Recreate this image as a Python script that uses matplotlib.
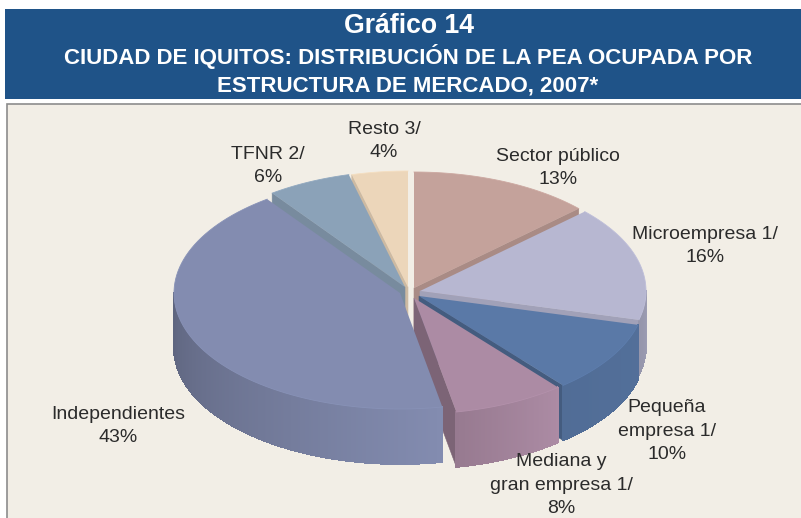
#!/usr/bin/env python3
# -*- coding: utf-8 -*-
import numpy as np
import matplotlib
matplotlib.use("Agg")
import matplotlib.pyplot as plt
from matplotlib.collections import PolyCollection
from matplotlib.colors import to_rgb
from matplotlib.patches import Rectangle

plt.rcParams['font.family'] = ['Liberation Sans', 'DejaVu Sans']

# data, clockwise from 12 o'clock
labels = ["Sector público\n13%", "Microempresa 1/\n16%", "Pequeña\nempresa 1/\n10%",
          "Mediana y\ngran empresa 1/\n8%", "Independientes\n43%", "TFNR 2/\n6%", "Resto 3/\n4%"]
shares = [13, 16, 10, 8, 43, 6, 4]

title = "Gráfico 14"
subtitle = "CIUDAD DE IQUITOS: DISTRIBUCIÓN DE LA PEA OCUPADA POR\nESTRUCTURA DE MERCADO, 2007*"

# styles
colors = ['#C4A29B', '#B7B7D1', '#5A79A7', '#AC8BA4', '#838CB0', '#8BA2B8', '#ECD6BA']
cut_shade = [0.86, 0.88, 0.76, 0.72, 1.0, 0.86, 0.87]
wall_shade = [(1, 1), (0.86, 0.82), (0.92, 0.9), (1.0, 0.88), (1.0, 0.72), (1, 1), (1, 1)]
centers = [(414, 288), (420, 291), (419, 296), (414, 298), (400, 293), (405, 287), (408, 287)]
label_pos = [(558, 168), (705, 246), (667, 431), (561, 485), (118, 426), (268, 166), (384, 141)]
draw_order = [6, 0, 5, 1, 2, 3, 4]
rx, ry, depth = 226, 116, 55


def arc(i, a0, a1, n=80):
    t = np.radians(np.linspace(a0, a1, n))
    return centers[i][0] + rx * np.sin(t), centers[i][1] - ry * np.cos(t)


def shade(col, s):
    return tuple(min(c * s, 1) for c in to_rgb(col))


fig = plt.figure(figsize=(8.01, 5.18), dpi=100, facecolor='white')
ax = fig.add_axes([0, 0, 1, 1])
ax.set_xlim(0, 801)
ax.set_ylim(518, 0)
ax.axis('off')

# header and panel
ax.add_patch(Rectangle((5, 9), 796, 90, fc='#1F5388', ec='none'))
ax.add_patch(Rectangle((7, 104), 800, 420, fc='#F2EEE6', ec='#8C8C8C', lw=1.2))
ax.text(409, 26, title, color='white', fontsize=19.2, fontweight='bold', ha='center', va='center')
ax.text(408, 70, subtitle, color='white', fontsize=16, fontweight='bold', ha='center', va='center',
        linespacing=1.43)

edges = np.concatenate([[0], np.cumsum(shares)]) / np.sum(shares) * 360

for i in draw_order:
    a0, a1 = edges[i], edges[i + 1]
    cx, cy = centers[i]
    col = colors[i]

    # cut faces that look towards the viewer
    cut = []
    if np.sin(np.radians(a0)) < -1e-6:
        cut.append(a0)
    if np.sin(np.radians(a1)) > 1e-6:
        cut.append(a1)
    for a in cut:
        ex, ey = arc(i, a, a, 1)
        ax.fill([cx, ex[0], ex[0], cx], [cy, ey[0], ey[0] + depth, cy + depth],
                color=shade(col, cut_shade[i]), lw=0.4, zorder=2)

    # outer wall, front half only
    lo, hi = max(a0, 90), min(a1, 270)
    if hi > lo:
        n = max(int(hi - lo) * 2, 6)
        x, y = arc(i, lo, hi, n + 1)
        quads, cols = [], []
        for k in range(n):
            quads.append([(x[k], y[k]), (x[k + 1], y[k + 1]),
                          (x[k + 1], y[k + 1] + depth), (x[k], y[k] + depth)])
            f = k / (n - 1)
            cols.append(shade(col, wall_shade[i][0] + f * (wall_shade[i][1] - wall_shade[i][0])))
        ax.add_collection(PolyCollection(quads, facecolors=cols, edgecolors=cols, linewidths=0.6,
                                         antialiaseds=False, zorder=2))

    # top of the slice
    x, y = arc(i, a0, a1)
    ax.fill(np.r_[cx, x], np.r_[cy, y], color=col, lw=0, zorder=2)
    ax.plot(x, y, color=shade(col, 1.04), lw=0.6, zorder=2)

    ax.text(label_pos[i][0], label_pos[i][1], labels[i], color='#2B2B2B', fontsize=14,
            ha='center', va='center', linespacing=1.5, zorder=5)

fig.savefig('out.png', dpi=100)
